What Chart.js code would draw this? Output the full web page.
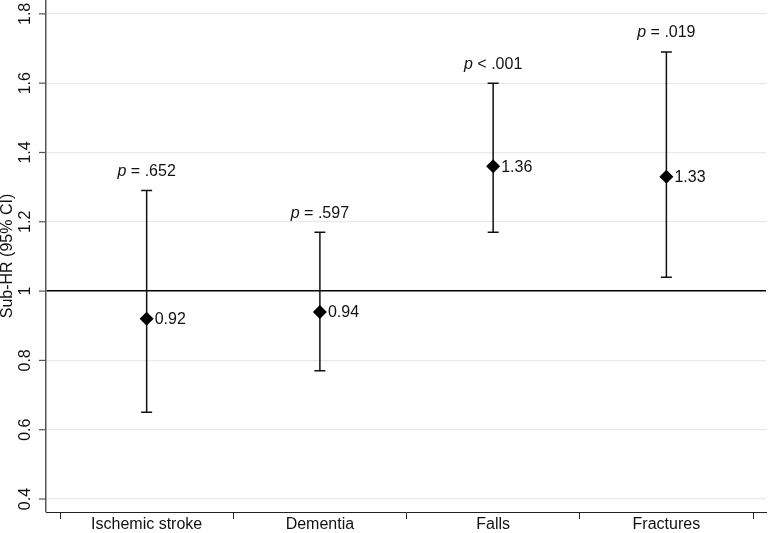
<!DOCTYPE html>
<html>
<head>
<meta charset="utf-8">
<script src="https://cdn.jsdelivr.net/npm/chart.js@4/dist/chart.umd.min.js"></script>
<style>
  body { margin: 0; background: #fff; }
  #wrap { width: 768px; height: 533px; }
</style>
</head>
<body>
<div id="wrap"><canvas id="chart"></canvas></div>
<script>
// data
const categories = ['Ischemic stroke', 'Dementia', 'Falls', 'Fractures'];
const estimates = [0.92, 0.94, 1.36, 1.33];
const lowerCI = [0.65, 0.77, 1.17, 1.04];
const upperCI = [1.29, 1.17, 1.60, 1.69];
const pLabels = ['= .652', '= .597', '< .001', '= .019'];
const yTicks = [0.4, 0.6, 0.8, 1, 1.2, 1.4, 1.6, 1.8];
const yTickLabels = ['0.4', '0.6', '0.8', '1', '1.2', '1.4', '1.6', '1.8'];

const FONT = '"Liberation Sans", Arial, Helvetica, sans-serif';

// error bars, p-values, value labels, rotated y tick labels
const extras = {
  id: 'extras',
  beforeDatasetsDraw(chart) {
    const { ctx, scales: { x, y } } = chart;
    ctx.save();
    ctx.strokeStyle = '#111';
    ctx.lineWidth = 1.5;
    estimates.forEach((v, i) => {
      const px = x.getPixelForValue(i + 1);
      const top = y.getPixelForValue(upperCI[i]);
      const bot = y.getPixelForValue(lowerCI[i]);
      ctx.beginPath();
      ctx.moveTo(px, top); ctx.lineTo(px, bot);
      ctx.moveTo(px - 5.5, top); ctx.lineTo(px + 5.5, top);
      ctx.moveTo(px - 5.5, bot); ctx.lineTo(px + 5.5, bot);
      ctx.stroke();
    });
    ctx.restore();
  },
  afterDatasetsDraw(chart) {
    const { ctx, scales: { x, y } } = chart;
    ctx.save();
    ctx.fillStyle = '#111';
    ctx.textBaseline = 'middle';
    estimates.forEach((v, i) => {
      const px = x.getPixelForValue(i + 1);
      // value label
      ctx.font = '16px ' + FONT;
      ctx.textAlign = 'left';
      ctx.fillText(v.toFixed(2), px + 8, y.getPixelForValue(v) + 1);
      // p label
      const py = y.getPixelForValue(upperCI[i]) - 19;
      ctx.font = 'italic 16px ' + FONT;
      const wp = ctx.measureText('p').width;
      ctx.font = '16px ' + FONT;
      const rest = ' ' + pLabels[i];
      const wr = ctx.measureText(rest).width;
      const start = px - (wp + wr) / 2;
      ctx.font = 'italic 16px ' + FONT;
      ctx.fillText('p', start, py);
      ctx.font = '16px ' + FONT;
      ctx.fillText(rest, start + wp, py);
    });
    // y tick marks and rotated y tick labels
    ctx.font = '16px ' + FONT;
    ctx.textAlign = 'center';
    ctx.strokeStyle = '#555';
    ctx.lineWidth = 1.2;
    yTicks.forEach((t, i) => {
      const py = y.getPixelForValue(t);
      ctx.beginPath();
      ctx.moveTo(y.right - 7, py);
      ctx.lineTo(y.right, py);
      ctx.stroke();
      ctx.save();
      ctx.translate(26, py);
      ctx.rotate(-Math.PI / 2);
      ctx.fillText(yTickLabels[i], 0, 0);
      ctx.restore();
    });
    ctx.restore();
  }
};

new Chart(document.getElementById('chart'), {
  type: 'scatter',
  data: {
    datasets: [{
      data: estimates.map((v, i) => ({ x: i + 1, y: v })),
      pointStyle: 'rectRot',
      pointRadius: 7,
      pointHoverRadius: 7,
      backgroundColor: '#000',
      borderColor: '#000',
      borderWidth: 0,
      clip: false
    }]
  },
  options: {
    responsive: true,
    maintainAspectRatio: false,
    animation: false,
    layout: { autoPadding: false, padding: { left: 0, right: 2, top: 0, bottom: 0 } },
    plugins: { legend: { display: false }, tooltip: { enabled: false } },
    scales: {
      x: {
        type: 'linear',
        min: 0.419,
        max: 4.575,
        afterBuildTicks: (s) => {
          s.ticks = [0.5, 1, 1.5, 2, 2.5, 3, 3.5, 4, 4.5].map(v => ({ value: v }));
        },
        afterFit: (s) => { s.height = 21; },
        border: { color: '#222', width: 1 },
        grid: {
          drawOnChartArea: false,
          drawTicks: true,
          tickLength: 7,
          tickColor: (c) => (c.tick && c.tick.value % 1 === 0) ? 'rgba(0,0,0,0)' : '#222'
        },
        ticks: {
          autoSkip: false,
          maxRotation: 0,
          padding: -2,
          color: '#111',
          font: { family: FONT, size: 16, lineHeight: 1 },
          callback: (v) => (v % 1 === 0 ? categories[v - 1] : '')
        }
      },
      y: {
        min: 0.3625,
        max: 1.84,
        afterBuildTicks: (s) => { s.ticks = yTicks.map(v => ({ value: v })); },
        afterFit: (s) => { s.width = 46; },
        border: { color: '#555', width: 1.5 },
        grid: {
          drawTicks: false,
          color: (c) => (c.tick && Math.abs(c.tick.value - 1) < 1e-6) ? '#000' : '#e9e9e9',
          lineWidth: (c) => (c.tick && Math.abs(c.tick.value - 1) < 1e-6) ? 1.5 : 1.2
        },
        ticks: { display: false },
        title: {
          display: true,
          text: 'Sub-HR (95% CI)',
          color: '#111',
          padding: 0,
          font: { family: FONT, size: 16, lineHeight: 1 }
        }
      }
    }
  },
  plugins: [extras]
});
</script>
</body>
</html>
